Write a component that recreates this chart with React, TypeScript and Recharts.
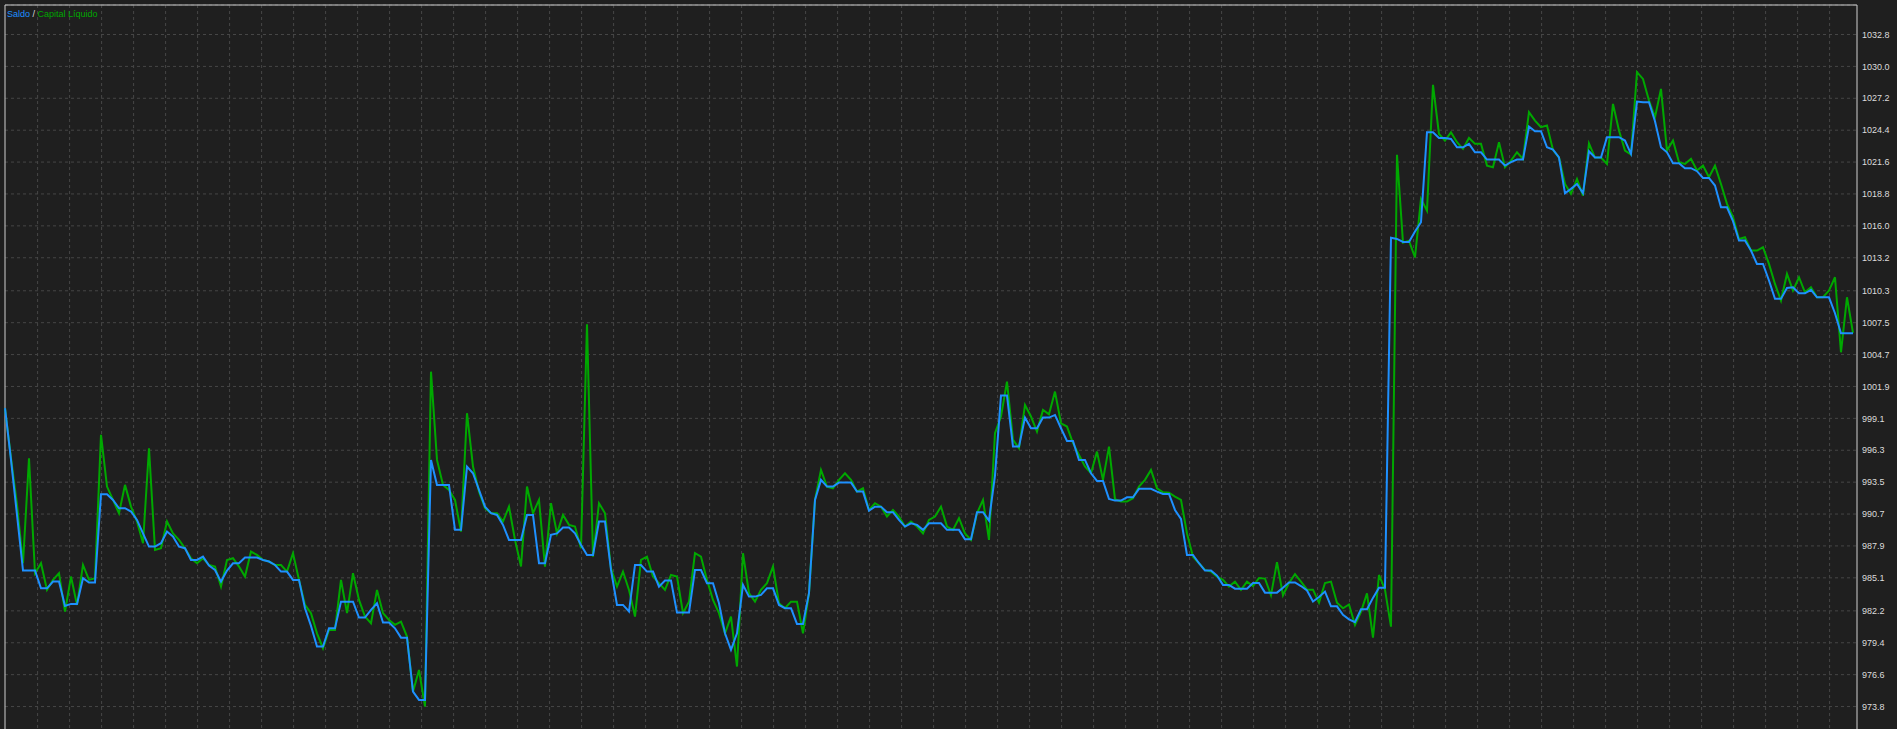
import React from 'react';
import { LineChart, Line, XAxis, YAxis, CartesianGrid, ReferenceLine } from 'recharts';

// balance / equity history, one value per deal step
const saldo = [
  999.99, 995.45, 990.62, 985.74, 985.74, 985.74, 984.18, 984.18, 984.77, 984.77,
  982.63, 982.81, 982.81, 985.06, 984.68, 984.68, 992.44, 992.44, 991.94, 991.21,
  991.21, 990.92, 990.18, 989.01, 987.84, 987.84, 988.14, 989.16, 988.72, 987.84,
  987.7, 986.67, 986.67, 986.96, 986.17, 985.79, 984.77, 985.74, 986.38, 986.38,
  986.88, 986.88, 986.88, 986.67, 986.53, 986.23, 985.65, 985.65, 984.92, 984.92,
  982.43, 980.88, 979.07, 979.07, 980.67, 980.67, 983.01, 983.01, 983.01, 981.61,
  981.61, 982.28, 982.87, 981.17, 981.17, 980.67, 979.85, 979.85, 975.11, 974.38,
  974.38, 995.45, 993.26, 993.26, 993.26,
  989.31, 989.31, 994.87, 994.28, 992.82, 991.35, 990.77, 990.62, 989.75, 988.43,
  988.43, 988.43, 990.62, 990.62, 986.38, 986.38, 988.87, 989.0, 989.51, 989.51,
  989.0, 987.99, 987.11, 987.11, 990.04, 990.04, 985.79, 982.72, 982.72, 982.14,
  986.23, 986.23, 985.65, 985.65, 984.33, 984.86, 984.86, 982.05, 982.05, 982.05,
  985.79, 985.79, 984.63, 984.63, 982.87, 980.23, 978.77, 980.23, 984.48, 983.45,
  983.45, 983.6, 984.18, 984.18, 982.72, 982.43, 982.43, 981.05, 981.05, 983.75,
  991.94, 993.7, 993.11, 993.11, 993.46, 993.46,
  993.46, 992.67, 992.67, 991.0, 991.35, 991.35, 990.86, 990.86, 990.18, 989.6,
  989.89, 989.75, 989.31, 989.89, 989.89, 989.89, 989.31, 989.31, 989.31, 988.49,
  988.49, 990.86, 990.86, 990.13, 994.08, 1001.1, 1001.1, 996.62, 996.62, 999.17,
  998.23, 998.23, 999.17, 999.17, 999.4, 998.23, 997.12, 997.12, 995.45, 995.45,
  994.28, 993.61, 993.61, 992.03, 991.88, 991.88, 992.17, 992.17, 992.91, 992.91,
  992.91, 992.67, 992.47, 992.47, 991.06, 990.27, 987.11, 987.11, 986.38, 985.74,
  985.74, 985.3, 984.48, 984.48, 984.15, 984.15, 984.15,
  984.64, 984.64, 983.8, 983.8, 983.8, 984.22, 984.7, 984.7, 984.38, 983.99,
  983.02, 983.41, 983.89, 982.6, 982.6, 981.85, 981.46, 981.2, 982.34, 982.34,
  983.34, 984.22, 984.22, 1014.95, 1014.85, 1014.59, 1014.59, 1015.5,
  1016.32, 1024.22, 1024.22, 1023.72, 1023.72, 1023.63, 1022.9, 1022.9, 1023.2, 1022.46,
  1022.46, 1021.82, 1021.82, 1021.82, 1021.29, 1021.59, 1021.82, 1021.82, 1024.72, 1024.31,
  1024.31, 1022.9, 1022.7, 1022.0, 1018.86, 1019.25, 1019.68, 1018.86, 1022.55, 1022.0,
  1022.0, 1023.78, 1023.78, 1023.78, 1023.49, 1022.32, 1026.91, 1026.85, 1026.85, 1025.19,
  1022.9, 1022.46, 1021.5, 1021.5, 1021.06, 1021.06, 1020.8, 1020.21, 1020.21, 1019.54,
  1017.63, 1017.63, 1016.41, 1014.71, 1014.71, 1013.83, 1012.66, 1012.66, 1011.2, 1009.59,
  1009.59, 1010.55, 1010.61, 1010.08, 1010.08, 1010.38, 1009.73, 1009.73, 1009.73, 1008.33,
  1006.57, 1006.57, 1006.57,
];

const capital = [
  999.99, 995.6, 991.5, 986.38, 995.6, 985.5, 986.38, 984.04, 984.92, 985.5,
  982.14, 985.21, 982.72, 986.23, 984.92, 985.06, 997.65, 993.11, 991.94, 990.77,
  993.26, 991.35, 990.04, 988.14, 996.48, 987.55, 987.7, 990.04, 989.0, 988.43,
  987.7, 986.82, 986.38, 986.82, 986.23, 986.09, 984.33, 986.67, 986.82, 986.09,
  985.21, 987.4, 987.11, 986.67, 986.53, 986.23, 986.23, 985.65, 987.26, 984.92,
  982.72, 982.0, 980.23, 978.92, 980.53, 980.53, 984.92, 982.0, 985.5, 983.16,
  981.7, 981.11, 984.04, 982.0, 981.4, 980.97, 981.26, 979.94, 975.11, 977.01,
  973.8, 1003.2, 995.45, 993.26, 992.82,
  991.94, 989.16, 999.55, 994.87, 992.67, 991.21, 990.77, 990.77, 990.04, 991.35,
  988.43, 986.09, 993.11, 990.77, 991.94, 986.09, 991.65, 989.0, 990.62, 989.75,
  989.6, 987.7, 1007.36, 986.96, 991.65, 990.77, 985.94, 984.33, 985.65, 984.04,
  981.7, 986.67, 986.96, 985.21, 984.63, 984.04, 985.35, 985.21, 982.0, 983.01,
  987.26, 986.96, 984.92, 983.16, 982.0, 980.23, 981.7, 977.31, 987.26, 983.75,
  983.01, 984.04, 984.63, 986.09, 982.87, 982.43, 983.01, 983.01, 980.23, 983.75,
  991.94, 994.57, 993.11, 992.96, 993.7, 994.28,
  993.7, 992.67, 992.96, 991.06, 991.65, 991.35, 990.48, 991.06, 990.48, 989.6,
  990.04, 989.6, 989.0, 990.18, 990.48, 991.35, 989.6, 989.31, 990.33, 989.0,
  988.43, 990.77, 991.94, 988.43, 997.79, 999.26, 1002.33, 997.21, 996.48, 1000.28,
  999.26, 997.94, 999.84, 999.46, 1001.45, 998.67, 998.38, 996.92, 995.89, 994.87,
  994.28, 996.18, 993.7, 996.62, 992.0, 991.79, 991.79, 992.09, 993.11, 993.7,
  994.57, 992.96, 992.61, 992.58, 992.23, 991.94, 989.0, 986.96, 986.38, 985.79,
  985.65, 985.21, 984.92, 984.33, 984.77, 984.04, 984.77,
  984.38, 985.09, 985.03, 983.57, 986.48, 983.57, 984.64, 985.42, 984.77, 984.06,
  984.06, 982.92, 984.64, 984.77, 982.92, 982.43, 982.76, 980.97, 982.11, 983.73,
  979.84, 985.35, 984.06, 980.81, 1022.24, 1014.53, 1014.69, 1013.23,
  1018.37, 1017.34, 1028.38, 1024.07, 1023.49, 1024.22, 1023.34, 1022.76, 1023.72, 1023.2,
  1023.2, 1021.29, 1021.15, 1023.34, 1021.15, 1021.73, 1022.46, 1021.88, 1025.98, 1025.24,
  1024.66, 1024.81, 1022.67, 1022.0, 1019.68, 1018.81, 1020.12, 1018.66, 1023.25, 1022.0,
  1022.0, 1021.44, 1026.71, 1024.37, 1022.61, 1022.26, 1029.49, 1028.9, 1027.0, 1025.54,
  1028.02, 1022.61, 1023.49, 1021.59, 1021.44, 1021.88, 1020.86, 1021.29, 1020.27, 1021.29,
  1019.68, 1017.93, 1016.76, 1014.85, 1015.0, 1013.83, 1013.83, 1014.12, 1012.66, 1010.9,
  1009.44, 1011.78, 1010.32, 1011.49, 1010.17, 1010.61, 1009.73, 1009.73, 1010.32, 1011.49,
  1004.9, 1009.73, 1006.6,
];

const yTicks = [
  1032.8, 1030.0, 1027.2, 1024.4, 1021.6, 1018.8, 1016.0, 1013.2, 1010.3, 1007.5, 1004.7,
  1001.9, 999.1, 996.3, 993.5, 990.7, 987.9, 985.1, 982.2, 979.4, 976.6, 973.8,
];

const Y_MIN = 970.95;
const Y_MAX = 1035.39;
const X_MAX = 308.67;

const BG = '#1f1f1f';
const BLUE = '#1e90ff';
const GREEN = '#00a800';
const TEXT = '#dcdcdc';
const FONT = '"Liberation Sans", Arial, sans-serif';

const chartData = saldo.map((v, i) => ({ i, saldo: v, capital: capital[i] }));

// MT5 style vertical grid: every 32px from the left of the plot
const verticalGrid = ({ offset }: any) => {
  const pts: number[] = [];
  for (let x = offset.left + 32.6; x < offset.left + offset.width; x += 32) pts.push(x);
  return pts;
};

export default function App() {
  return (
    <div
      style={{
        position: 'absolute',
        left: 0,
        top: 0,
        width: 1897,
        height: 729,
        overflow: 'hidden',
        background: BG,
        fontFamily: FONT,
      }}
    >
      <LineChart
        width={1897}
        height={760}
        data={chartData}
        margin={{ top: 5, right: 0, left: 5, bottom: 21 }}
      >
        <CartesianGrid
          stroke="#464646"
          strokeDasharray="3 3"
          verticalCoordinatesGenerator={verticalGrid}
        />
        <XAxis dataKey="i" type="number" domain={[0, X_MAX]} hide />
        <YAxis
          orientation="right"
          width={40}
          domain={[Y_MIN, Y_MAX]}
          ticks={yTicks}
          allowDataOverflow
          interval={0}
          tickFormatter={(v: number) => v.toFixed(1)}
          axisLine={{ stroke: '#d0d0d0', strokeWidth: 1 }}
          tickLine={false}
          tickSize={3}
          tickMargin={2}
          tick={{ fill: TEXT, fontSize: 9, fontFamily: FONT }}
        />
        <ReferenceLine y={Y_MAX} stroke="#d0d0d0" strokeWidth={1} />
        <ReferenceLine x={0} stroke="#d0d0d0" strokeWidth={1} />
        <Line
          type="linear"
          dataKey="capital"
          stroke={GREEN}
          strokeWidth={2}
          dot={false}
          isAnimationActive={false}
        />
        <Line
          type="linear"
          dataKey="saldo"
          stroke={BLUE}
          strokeWidth={2}
          dot={false}
          isAnimationActive={false}
        />
      </LineChart>
      <div
        style={{
          position: 'absolute',
          left: 7,
          top: 8,
          fontSize: 9,
          lineHeight: '12px',
          whiteSpace: 'nowrap',
        }}
      >
        <span style={{ color: BLUE }}>Saldo</span>
        <span style={{ color: TEXT }}> / </span>
        <span style={{ color: GREEN }}>Capital Líquido</span>
      </div>
    </div>
  );
}
